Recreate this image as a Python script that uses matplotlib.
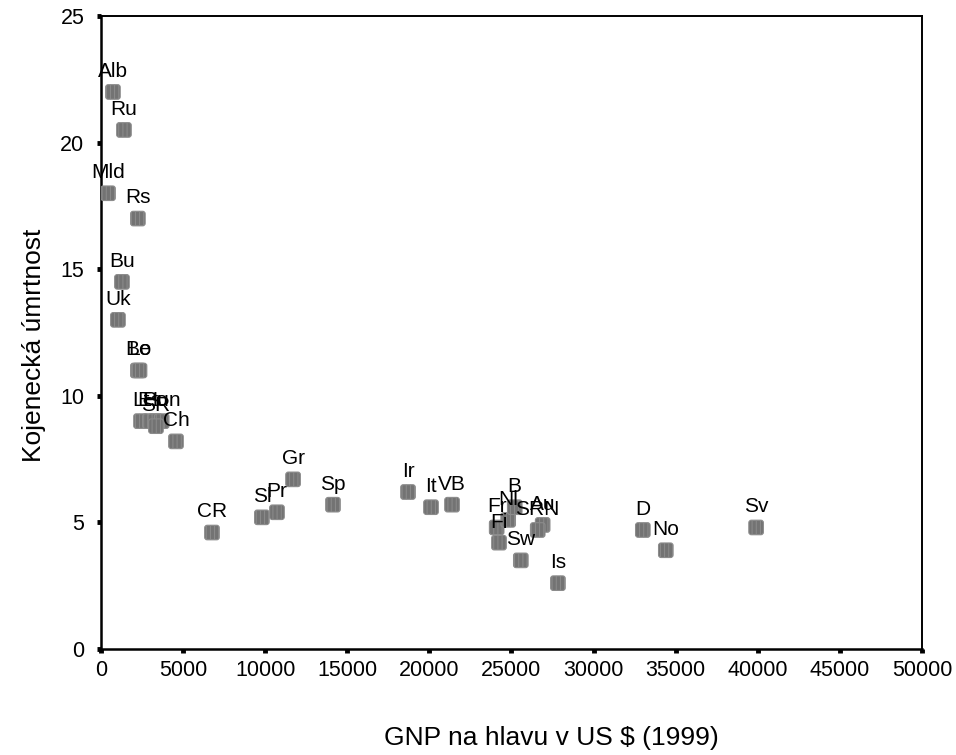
import matplotlib
matplotlib.use("Agg")
import matplotlib.pyplot as plt
from matplotlib.path import Path

plt.rcParams["font.family"] = ["Liberation Sans", "DejaVu Sans"]
plt.rcParams["hatch.color"] = "#4a4a4a"
plt.rcParams["hatch.linewidth"] = 0.7

# GNP per capita (US $, 1999) vs infant mortality
countries = ["Alb", "Ru", "Mld", "Rs", "Bu", "Uk", "Be", "Lo",
             "Lt", "Es", "Po", "Hun", "SR", "Ch", "CR",
             "Sl", "Pr", "Gr", "Sp", "Ir", "It", "VB",
             "Fr", "Fi", "Nl", "B", "Au", "SRN", "Sw", "Is",
             "D", "No", "Sv"]
gnp = [730, 1400, 430, 2250, 1280, 1035, 2250, 2350,
       2440, 2980, 3300, 3700, 3350, 4570, 6760,
       9800, 10720, 11700, 14130, 18700, 20100, 21380,
       24100, 24240, 24800, 25200, 26900, 26600, 25570, 27830,
       33000, 34400, 39900]
mortality = [22.0, 20.5, 18.0, 17.0, 14.5, 13.0, 11.0, 11.0,
             9.0, 9.0, 9.0, 9.0, 8.8, 8.2, 4.6,
             5.2, 5.4, 6.7, 5.7, 6.2, 5.6, 5.7,
             4.8, 4.2, 5.1, 5.6, 4.9, 4.7, 3.5, 2.6,
             4.7, 3.9, 4.8]


def rounded_square(r=0.35):
    # unit square with rounded corners for the markers
    k = 1 - r
    verts = [(-k, -1), (k, -1), (1, -1), (1, -k), (1, k), (1, 1),
             (k, 1), (-k, 1), (-1, 1), (-1, k), (-1, -k), (-1, -1),
             (-k, -1), (-k, -1)]
    codes = [Path.MOVETO, Path.LINETO, Path.CURVE3, Path.CURVE3,
             Path.LINETO, Path.CURVE3, Path.CURVE3, Path.LINETO,
             Path.CURVE3, Path.CURVE3, Path.LINETO, Path.CURVE3,
             Path.CURVE3, Path.CLOSEPOLY]
    return Path(verts, codes)


fig = plt.figure(figsize=(9.56, 7.55), dpi=100)
ax = fig.add_axes([0.1056, 0.1404, 0.8588, 0.8384])

ax.scatter(gnp, mortality, s=110, marker=rounded_square(), facecolor="#737373",
           edgecolor="#8c8c8c", linewidths=0.8, hatch="||||", zorder=3)

for name, x, y in zip(countries, gnp, mortality):
    ax.annotate(name, (x, y), xytext=(0, 8), textcoords="offset points",
                ha="center", va="bottom", fontsize=15, color="black",
                zorder=4)

ax.set_xlim(0, 50000)
ax.set_ylim(0, 25)
ax.set_xticks(range(0, 50001, 5000))
ax.set_yticks(range(0, 26, 5))
ax.tick_params(direction="out", length=3, width=3.5, labelsize=15.5,
               colors="black")
ax.tick_params(axis="x", pad=5)
ax.tick_params(axis="y", pad=9)

for side in ["left", "bottom"]:
    ax.spines[side].set_linewidth(1.8)
for side in ["top", "right"]:
    ax.spines[side].set_linewidth(1.4)

ax.set_xlabel("GNP na hlavu v US $ (1999)", fontsize=19)
ax.set_ylabel("Kojenecká úmrtnost", fontsize=19)
ax.xaxis.set_label_coords(0.549, -0.122)
ax.yaxis.set_label_coords(-0.067, 0.48)

fig.savefig("out.png", dpi=100)
